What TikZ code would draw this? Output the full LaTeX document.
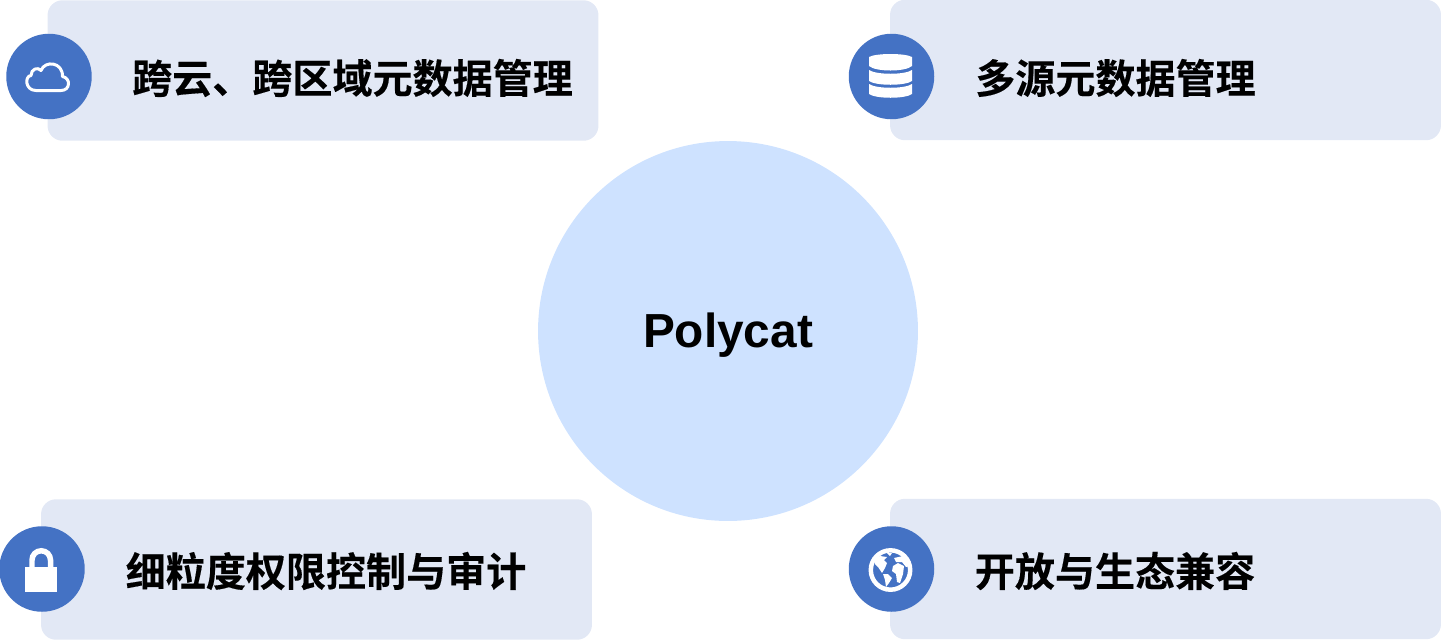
\documentclass[tikz,border=0pt]{standalone}
\usepackage{fontspec}
\setmainfont{Liberation Sans}
\newfontfamily\cjk[FakeBold=0.3]{Noto Sans CJK SC Bold}
\usepackage{tikz}
\definecolor{panelbg}{RGB}{226,232,245}
\definecolor{iconblue}{RGB}{68,114,196}
\definecolor{corebg}{RGB}{206,226,255}
\tikzset{
	panel/.style={fill=panelbg,rounded corners=0.3cm,minimum width=11.02cm,minimum height=2.81cm,inner sep=0pt},
	badge/.style={circle,fill=iconblue,minimum size=1.71cm,inner sep=0pt},
	caption/.style={font=\cjk\fontsize{22.8}{27}\selectfont,inner sep=0pt},
}
\begin{document}
\begin{tikzpicture}[x=0.02cm,y=-0.02cm]
	\useasboundingbox (0,0) rectangle (1450,640);
	\node[circle,fill=corebg,minimum size=7.6cm,inner sep=0pt] (core) at (728,331) {};
	\node[font=\bfseries\fontsize{27.2}{32}\selectfont,inner sep=0pt] (corename) at (728,335) {Polycat};

	\node[panel] (cloudpanel) at (323,70.5) {};
	\node[panel] (dbpanel) at (1165.5,70) {};
	\node[panel] (lockpanel) at (316.5,569.5) {};
	\node[panel] (globepanel) at (1165.5,569) {};

	\node[caption] (cloudtext) at (352.5,78) {跨云、跨区域元数据管理};
	\node[caption] (dbtext) at (1115.5,78) {多源元数据管理};
	\node[caption] (locktext) at (326,571) {细粒度权限控制与审计};
	\node[caption] (globetext) at (1115,571) {开放与生态兼容};

	\node[badge] (cloudicon) at (49,76.5) {};
	\node[badge] (dbicon) at (891.5,76.5) {};
	\node[badge] (lockicon) at (42,569) {};
	\node[badge] (globeicon) at (891.5,569) {};

	% cloud
	\draw[white,line width=0.06cm,line join=round] (36,90.5) .. controls (25,90.5) and (24.5,76) .. (31,75.5) .. controls (31,69) and (38,66.5) .. (41,70.5) .. controls (45,60) and (63,62) .. (62.5,76.5) .. controls (71,78) and (70.5,90.5) .. (61,90.5) -- cycle;

	% database
	\fill[white] (869,57) .. controls (876,53) and (905,53) .. (912,57) -- (912,66) .. controls (905,72) and (876,72) .. (869,66) -- cycle;
	\fill[white] (869,70) .. controls (876,75) and (905,75) .. (912,70) -- (912,81) .. controls (905,86) and (876,86) .. (869,81) -- cycle;
	\fill[white] (869,84) .. controls (876,89) and (905,89) .. (912,84) -- (912,94) .. controls (905,99) and (876,99) .. (869,94) -- cycle;

	% lock
	\fill[white] (25,567) rectangle (57,592);
	\draw[white,line width=0.11cm] (32,568) -- (32,560) arc (180:360:9.25) -- (50.5,568);

	% globe
	\draw[white,line width=0.09cm] (890.5,570) circle (19.7);
	\fill[white] (875,559) -- (880,556) -- (887,557) -- (884,560) -- (887,563) -- (885,568) -- (882,573) -- (878,567) -- (875,564) -- cycle;
	\fill[white] (883,574) -- (888,574) -- (892,578) -- (889,583) -- (886,587) -- (885,580) -- cycle;
	\fill[white] (893,566) -- (898,563) -- (904,566) -- (903,574) -- (900,583) -- (897,582) -- (896,574) -- (892,571) -- cycle;
	\fill[white] (894,558) -- (903,556) -- (908,560) -- (911,566) -- (906,567) -- (902,562) -- (896,562) -- cycle;
	\fill[white] (887,553) -- (892,553) -- (890,556) -- cycle;
\end{tikzpicture}
\end{document}
